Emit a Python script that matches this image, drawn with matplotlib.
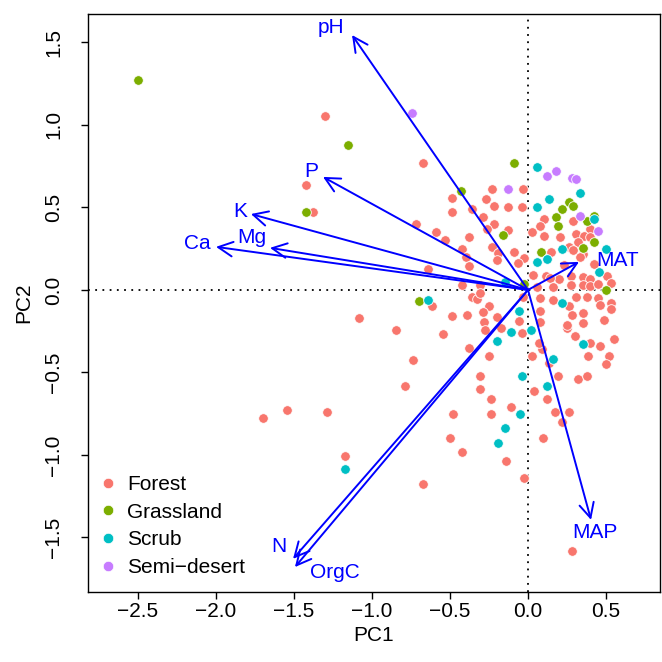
import numpy as np
import matplotlib
matplotlib.use("Agg")
import matplotlib.pyplot as plt
from matplotlib.lines import Line2D

plt.rcParams['font.family'] = ['Liberation Sans', 'DejaVu Sans']

# PCA scores, one pair of lists per habitat
forest_x = [-1.30, -1.42, -1.38, -1.70, -1.545, -1.29, -1.17, -0.67, 0.28, -1.083, -0.846, -0.737, -0.788, -0.67, -0.72, -0.64,
            -0.31, -0.31, -0.24, -0.11, -0.24, -0.48, -0.50, -0.42, -0.14, -0.026, 0.04, 0.12, 0.17, 0.22, 0.096, 0.19, 0.32, 0.38, 0.26, 0.135,
            -0.38, -0.25, 0.026, 0.09, 0.385, 0.52, 0.50, 0.46, 0.55, 0.40,
            -0.23, -0.03, -0.49, -0.27, -0.49, -0.22, -0.13, -0.04, -0.36, -0.29, 0.10, 0.29, -0.22, 0.077, 0.40, -0.59, -0.26, 0.026,
            0.10, 0.31, 0.36, -0.53, -0.38, 0.205, 0.40, 0.32, -0.23, 0.26, -0.42, -0.19, 0.15, 0.29, 0.35, -0.09, -0.40, -0.026, 0.23,
            -0.064, -0.38, -0.20, 0.032, 0.115, 0.20, 0.275, 0.35, 0.40, 0.505, 0.14, 0.275, 0.35, 0.40, 0.45, 0.53, -0.42, -0.31, 0.058,
            0.16, -0.36, -0.33, -0.615, 0.077, 0.16, 0.31, 0.38, 0.45, 0.53, 0.077, 0.26, 0.35, 0.46, 0.53, -0.49, -0.39, -0.28, -0.20,
            0.077, 0.28, 0.25, 0.49, -0.545, -0.275, -0.04, 0.35,
            0.33, 0.42, 0.25, 0.30, 0.07,
            -0.31, -0.25, -0.29, -0.03, -0.06, -0.17, -0.13]
forest_y = [1.055, 0.635, 0.475, -0.775, -0.73, -0.74, -1.005, -1.175, -1.58, -0.17, -0.244, -0.427, -0.58, 0.77, 0.40, 0.128,
            -0.52, -0.60, -0.66, -0.71, -0.755, -0.75, -0.90, -0.98, -1.04, -1.14, -0.61, -0.66, -0.74, -0.80, -0.90, -0.52, -0.54, -0.52, -0.74, -0.44,
            -0.35, -0.40, -0.40, -0.36, -0.40, -0.40, -0.45, -0.34, -0.30, -0.32,
            0.61, 0.61, 0.555, 0.55, 0.47, 0.51, 0.505, 0.505, 0.49, 0.44, 0.43, 0.415, 0.40, 0.385, 0.37, 0.35, 0.37, 0.35,
            0.325, 0.34, 0.325, 0.30, 0.32, 0.32, 0.32, 0.29, 0.26, 0.26, 0.245, 0.225, 0.23, 0.24, 0.22, 0.23, 0.20, 0.195, 0.15,
            0.165, 0.145, 0.18, 0.09, 0.085, 0.065, 0.085, 0.08, 0.065, 0.085, 0.07, 0.03, 0.03, 0.025, 0.037, 0.04, 0.03, 0.03, 0.018,
            0.018, -0.04, -0.055, -0.10, -0.05, -0.06, -0.04, -0.04, -0.05, -0.08, -0.13, -0.10, -0.14, -0.09, -0.115, -0.16, -0.15, -0.195, -0.165,
            -0.195, -0.155, -0.23, -0.18, -0.27, -0.245, -0.26, -0.20,
            0.20, 0.16, -0.21, -0.28, -0.32,
            -0.02, -0.10, -0.135, -0.04, -0.19, -0.23, 0.365]

grass_x = [-2.50, -1.154, -1.42, -0.43, -0.09, -0.70, -0.16, 0.26, 0.29, 0.22, 0.18, 0.38, 0.42, 0.19, 0.42, 0.35, 0.083, -0.026, 0.50]
grass_y = [1.27, 0.878, 0.47, 0.60, 0.77, -0.07, 0.33, 0.53, 0.51, 0.49, 0.44, 0.42, 0.445, 0.385, 0.29, 0.255, 0.23, 0.037, 0.0]

scrub_x = [-1.173, -0.64, -0.04, -0.05, -0.15, -0.19, 0.12, -0.20, 0.16, 0.35, 0.06, 0.33, 0.135, 0.06, 0.42, 0.22, 0.50,
           0.058, 0.12, 0.455, -0.15, 0.22, -0.06, -0.11, 0.02]
scrub_y = [-1.085, -0.06, -0.52, -0.75, -0.84, -0.93, -0.58, -0.31, -0.42, -0.33, 0.745, 0.585, 0.55, 0.505, 0.43, 0.25, 0.25,
           0.17, 0.19, 0.11, 0.05, -0.08, -0.13, -0.255, -0.24]

desert_x = [-0.744, 0.12, 0.18, 0.28, 0.31, -0.13, 0.33, 0.45]
desert_y = [1.073, 0.69, 0.72, 0.68, 0.67, 0.61, 0.45, 0.36]

# variable loadings (arrow tips) and label positions
var_names = ["pH", "P", "K", "Mg", "Ca", "MAT", "MAP", "N", "OrgC"]
load_x = [-1.128, -1.314, -1.776, -1.654, -2.0, 0.327, 0.404, -1.506, -1.494]
load_y = [1.545, 0.685, 0.46, 0.255, 0.261, 0.17, -1.394, -1.63, -1.68]
lab_x = [-1.263, -1.39, -1.846, -1.77, -2.12, 0.577, 0.43, -1.596, -1.237]
lab_y = [1.588, 0.72, 0.473, 0.32, 0.28, 0.176, -1.47, -1.558, -1.71]

groups = ["Forest", "Grassland", "Scrub", "Semi\u2212desert"]
colors = ["#F8766D", "#7CAE00", "#00BFC4", "#C77CFF"]

fig = plt.figure(figsize=(6.62, 6.62), dpi=100)
ax = fig.add_axes([0.133, 0.106, 0.864, 0.873])

ax.axhline(0, color="black", ls=(0, (1, 3)), lw=1.3, zorder=1)
ax.axvline(0, color="black", ls=(0, (1, 3)), lw=1.3, zorder=1)

data = [(forest_x, forest_y), (grass_x, grass_y), (scrub_x, scrub_y), (desert_x, desert_y)]
for (xs, ys), c in zip(data, colors):
    ax.scatter(xs, ys, s=48, color=c, edgecolors="white", linewidths=0.6, zorder=2)

for i in range(len(var_names)):
    ax.annotate("", xy=(load_x[i], load_y[i]), xytext=(0, 0),
                arrowprops=dict(arrowstyle="->,head_length=0.7,head_width=0.35",
                                color="blue", lw=1.4, shrinkA=0, shrinkB=0,
                                mutation_scale=15), zorder=3)
    ax.text(lab_x[i], lab_y[i], var_names[i], color="blue", fontsize=15,
            ha="center", va="center", zorder=4)

ax.set_xlim(-2.82, 0.846)
ax.set_ylim(-1.83, 1.673)
ax.set_xticks([-2.5, -2.0, -1.5, -1.0, -0.5, 0.0, 0.5])
ax.set_yticks([-1.5, -1.0, -0.5, 0.0, 0.5, 1.0, 1.5])
ax.set_xticklabels(["\u22122.5", "\u22122.0", "\u22121.5", "\u22121.0", "\u22120.5", "0.0", "0.5"])
ax.set_yticklabels(["\u22121.5", "\u22121.0", "\u22120.5", "0.0", "0.5", "1.0", "1.5"],
                   rotation=90, va="center")
ax.tick_params(direction="out", length=5, width=1, labelsize=15)
ax.tick_params(axis="x", pad=2)
ax.tick_params(axis="y", pad=13)
for sp in ax.spines.values():
    sp.set_linewidth(1)
ax.set_xlabel("PC1", fontsize=15, labelpad=4)
ax.set_ylabel("PC2", fontsize=15, labelpad=8)

handles = [Line2D([], [], marker="o", ls="", color=c, markersize=7.5,
                  markeredgecolor="white", markeredgewidth=0.5) for c in colors]
ax.legend(handles, groups, loc="lower left", frameon=False, fontsize=15,
          handletextpad=0.4, handlelength=1.0, labelspacing=0.42,
          borderaxespad=0.3, bbox_to_anchor=(-0.008, 0.0))

fig.savefig("out.png", dpi=100)
